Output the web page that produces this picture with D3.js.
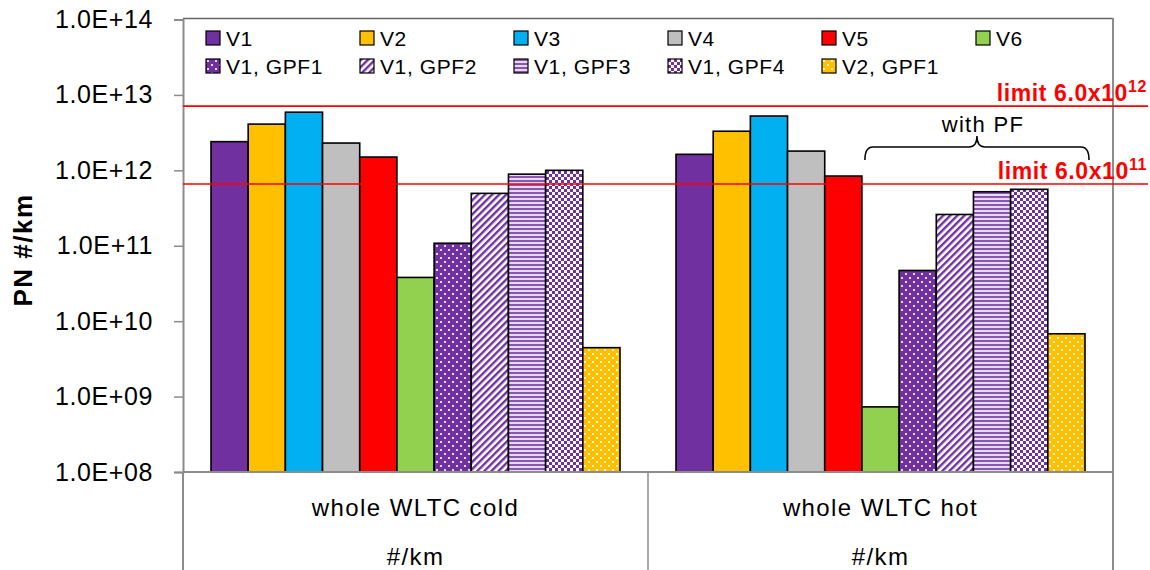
<!DOCTYPE html>
<html>
<head>
<meta charset="utf-8">
<script src="https://cdn.jsdelivr.net/npm/d3@7"></script>
<style>
  html, body { margin: 0; padding: 0; background: #fff; }
  svg { display: block; font-family: "Liberation Sans", Arial, sans-serif; }
</style>
</head>
<body>
<svg id="chart" width="1150" height="570"></svg>
<script>
// ---- data ----
const categories = ["whole WLTC cold", "whole WLTC hot"];
const unitLabel = "#/km";
const seriesNames = ["V1", "V2", "V3", "V4", "V5", "V6", "V1, GPF1", "V1, GPF2", "V1, GPF3", "V1, GPF4", "V2, GPF1"];
const valuesCold = [2.4e12, 4.1e12, 5.9e12, 2.3e12, 1.5e12, 3.8e10, 1.08e11, 4.95e11, 8.9e11, 1.0e12, 4.45e9];
const valuesHot  = [1.63e12, 3.3e12, 5.25e12, 1.8e12, 8.4e11, 7.3e8, 4.7e10, 2.6e11, 5.2e11, 5.6e11, 6.8e9];
const tickValues = [1e8, 1e9, 1e10, 1e11, 1e12, 1e13, 1e14];
const limitValues = [7.1e12, 6.6e11];          // drawn positions of limit lines
const limitBase = ["limit 6.0x10", "limit 6.0x10"];
const limitExp = ["12", "11"];
const yTitle = "PN #/km";
const braceLabel = "with PF";

// ---- styles ----
const purple = "#7030A0", orange = "#FFC000";
const fills = ["#7030A0", "#FFC000", "#00B0F0", "#BFBFBF", "#FF0000", "#92D050",
  "url(#pDotsPurple)", "url(#pDiag)", "url(#pHoriz)", "url(#pCheck)", "url(#pDotsOrange)"];

const svg = d3.select("#chart");
const defs = svg.append("defs");

function dots(id, bg) {
  const p = defs.append("pattern").attr("id", id).attr("patternUnits", "userSpaceOnUse")
    .attr("width", 8).attr("height", 8);
  p.append("rect").attr("width", 8).attr("height", 8).attr("fill", bg);
  p.append("circle").attr("cx", 2).attr("cy", 2).attr("r", 1.1).attr("fill", "#fff");
  p.append("circle").attr("cx", 6).attr("cy", 6).attr("r", 1.1).attr("fill", "#fff");
}
dots("pDotsPurple", purple);
dots("pDotsOrange", orange);
{
  const p = defs.append("pattern").attr("id", "pDiag").attr("patternUnits", "userSpaceOnUse")
    .attr("width", 5).attr("height", 5).attr("patternTransform", "rotate(45)");
  p.append("rect").attr("width", 5).attr("height", 5).attr("fill", "#fff");
  p.append("rect").attr("width", 2.4).attr("height", 5).attr("fill", purple);
}
{
  const p = defs.append("pattern").attr("id", "pHoriz").attr("patternUnits", "userSpaceOnUse")
    .attr("width", 4).attr("height", 4);
  p.append("rect").attr("width", 4).attr("height", 4).attr("fill", "#E6DAF0");
  p.append("rect").attr("width", 4).attr("height", 2).attr("fill", "#8A55B5");
}
{
  const p = defs.append("pattern").attr("id", "pCheck").attr("patternUnits", "userSpaceOnUse")
    .attr("width", 6).attr("height", 6);
  p.append("rect").attr("width", 6).attr("height", 6).attr("fill", "#fff");
  p.append("rect").attr("width", 3).attr("height", 3).attr("fill", purple);
  p.append("rect").attr("x", 3).attr("y", 3).attr("width", 3).attr("height", 3).attr("fill", purple);
}

// ---- layout ----
const plotLeft = 183, plotRight = 1113, plotTop = 19.5, plotBottom = 472, svgBottom = 570;

const y = d3.scaleLog().domain([1e8, 1e14]).range([plotBottom, plotTop]);
const x0 = d3.scaleBand().domain(categories).range([plotLeft, plotRight]).padding(0);
const x1 = d3.scaleBand().domain(seriesNames).range([28, x0.bandwidth() - 28]).padding(0);

const data = categories.map((c, i) => ({ cat: c, vals: i === 0 ? valuesCold : valuesHot }));

// frame
svg.append("line").attr("x1", plotLeft).attr("x2", plotRight).attr("y1", plotTop - 1).attr("y2", plotTop - 1)
  .attr("stroke", "#666").attr("stroke-width", 1.5);
svg.append("line").attr("x1", plotRight).attr("x2", plotRight).attr("y1", plotTop - 1.5).attr("y2", svgBottom)
  .attr("stroke", "#8c8c8c").attr("stroke-width", 2);

// bars
const groups = svg.append("g").selectAll("g").data(data).join("g")
  .attr("transform", d => `translate(${x0(d.cat)},0)`);
groups.selectAll("rect").data(d => d.vals.map((v, i) => ({ v, s: seriesNames[i], i })))
  .join("rect")
  .attr("x", d => x1(d.s))
  .attr("y", d => y(d.v))
  .attr("width", x1.bandwidth())
  .attr("height", d => plotBottom - y(d.v))
  .attr("fill", d => fills[d.i])
  .attr("stroke", "#000").attr("stroke-width", 1.6);

// y axis
const fmt = d => {
  const e = Math.round(Math.log10(d));
  return "1.0E+" + String(e).padStart(2, "0");
};
const yAxis = svg.append("g").attr("transform", `translate(${plotLeft},0)`)
  .call(d3.axisLeft(y).tickValues(tickValues).tickFormat(fmt).tickSize(9).tickPadding(21));
yAxis.select(".domain").attr("stroke", "#8c8c8c").attr("stroke-width", 2);
yAxis.selectAll(".tick line").attr("stroke", "#8c8c8c").attr("stroke-width", 1.5);
yAxis.selectAll(".tick text").attr("font-size", 25).attr("fill", "#000").attr("letter-spacing", 0.6)
  .attr("font-family", "Liberation Sans, Arial, sans-serif");
svg.append("line").attr("x1", plotLeft).attr("x2", plotLeft).attr("y1", plotBottom).attr("y2", svgBottom)
  .attr("stroke", "#8c8c8c").attr("stroke-width", 2);

// x axis (category table)
svg.append("line").attr("x1", plotLeft).attr("x2", plotRight).attr("y1", plotBottom).attr("y2", plotBottom)
  .attr("stroke", "#8c8c8c").attr("stroke-width", 2);
svg.append("g").selectAll("line").data(categories.slice(1)).join("line")
  .attr("x1", d => x0(d)).attr("x2", d => x0(d)).attr("y1", plotBottom).attr("y2", svgBottom)
  .attr("stroke", "#8c8c8c").attr("stroke-width", 1.5);
svg.append("g").selectAll("text").data(categories).join("text")
  .attr("x", d => x0(d) + x0.bandwidth() / 2).attr("y", 516)
  .attr("text-anchor", "middle").attr("font-size", 24).attr("letter-spacing", 1.4)
  .text(d => d);
svg.append("g").selectAll("text").data(categories).join("text")
  .attr("x", d => x0(d) + x0.bandwidth() / 2).attr("y", 565)
  .attr("text-anchor", "middle").attr("font-size", 24).attr("letter-spacing", 1.4)
  .text(unitLabel);

// y title
svg.append("text").attr("transform", `translate(32,250) rotate(-90)`)
  .attr("text-anchor", "middle").attr("font-weight", "bold").attr("font-size", 26)
  .attr("letter-spacing", 1.5).text(yTitle);

// limit lines
svg.append("g").selectAll("line").data(limitValues).join("line")
  .attr("x1", plotLeft).attr("x2", 1148).attr("y1", d => y(d)).attr("y2", d => y(d))
  .attr("stroke", "#FF0000").attr("stroke-width", 1.6);
const lt = svg.append("g").selectAll("text").data(limitValues).join("text")
  .attr("x", 1147).attr("y", d => y(d) - 5)
  .attr("text-anchor", "end").attr("font-weight", "bold").attr("font-size", 23)
  .attr("fill", "#FF0000").attr("letter-spacing", 0.6);
lt.append("tspan").text((d, i) => limitBase[i]);
lt.append("tspan").attr("font-size", 16).attr("dy", -9).text((d, i) => limitExp[i]);

// brace "with PF" over filtered bars of hot category
{
  const g0 = x0(categories[1]);
  const xa = g0 + x1(seriesNames[5]) + 3;
  const xb = g0 + x1(seriesNames[10]) + x1.bandwidth() + 4;
  const xm = (xa + xb) / 2;
  const yb = 147, ye = 160, yp = 136;
  const p = d3.path();
  p.moveTo(xa, ye);
  p.quadraticCurveTo(xa, yb, xa + 8, yb);
  p.lineTo(xm - 8, yb);
  p.quadraticCurveTo(xm, yb, xm, yp);
  p.quadraticCurveTo(xm, yb, xm + 8, yb);
  p.lineTo(xb - 8, yb);
  p.quadraticCurveTo(xb, yb, xb, ye);
  svg.append("path").attr("d", p.toString()).attr("fill", "none")
    .attr("stroke", "#000").attr("stroke-width", 1.5);
  svg.append("text").attr("x", xm + 6).attr("y", 132).attr("text-anchor", "middle")
    .attr("font-size", 22).attr("letter-spacing", 1.3).text(braceLabel);
}

// legend
const legX = d3.scalePoint().domain(d3.range(6)).range([206, 976]);
const leg = svg.append("g").selectAll("g").data(seriesNames).join("g")
  .attr("transform", (d, i) => `translate(${legX(i % 6)},${i < 6 ? 31 : 59})`);
leg.append("rect").attr("width", 14).attr("height", 14)
  .attr("fill", (d, i) => fills[i]).attr("stroke", "#000").attr("stroke-width", 1.2);
leg.append("text").attr("x", 20).attr("y", 14.5).attr("font-size", 21)
  .attr("letter-spacing", 0.6).text(d => d);
</script>
</body>
</html>
